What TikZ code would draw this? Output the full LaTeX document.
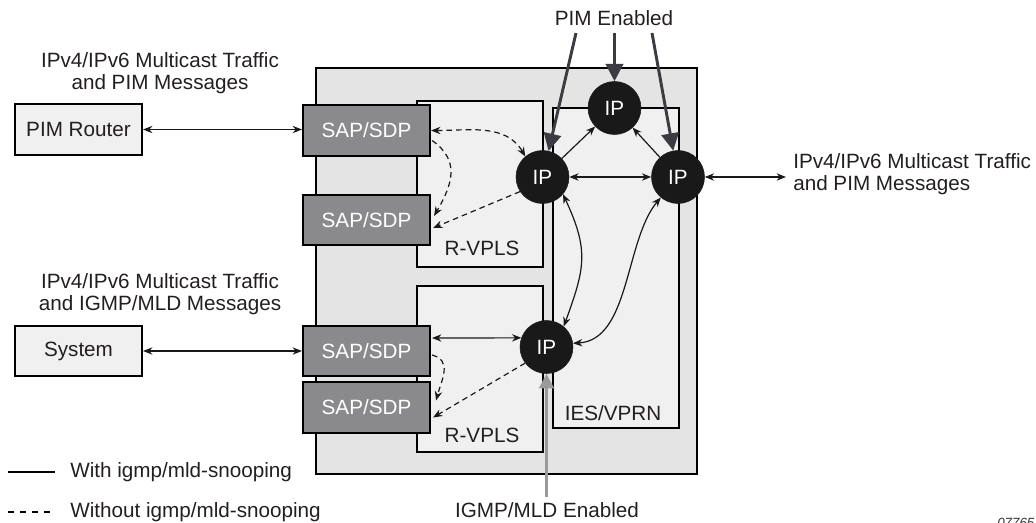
\documentclass[tikz,border=0pt]{standalone}
\usepackage{fontspec}
\setmainfont{Liberation Sans}
\usetikzlibrary{arrows.meta,calc}
\definecolor{outerfill}{HTML}{E4E4E4}
\definecolor{innerfill}{HTML}{F0F0F0}
\definecolor{sapfill}{HTML}{8A8A8C}
\definecolor{txt}{HTML}{231F20}
\definecolor{pimarrow}{HTML}{3D3B42}
\definecolor{igmparrow}{HTML}{9A9A9A}
\begin{document}
\begin{tikzpicture}[x=0.75pt,y=-0.75pt,
  font=\fontsize{15.5}{16.5}\selectfont, text=txt,
  tipS/.tip={Stealth[length=7pt,width=5.5pt]},
  frame/.style={draw=black, line width=1.6pt, inner sep=0pt},
  outerbox/.style={frame, fill=outerfill},
  innerbox/.style={frame, fill=innerfill, minimum width=94.5pt},
  sapbox/.style={frame, fill=sapfill, text=white, minimum width=95.25pt, minimum height=38pt},
  extbox/.style={frame, fill=innerfill, minimum width=95.25pt, minimum height=38pt},
  ipnode/.style={circle, fill=black!90, draw=black!90, text=white, minimum size=39.75pt, inner sep=0pt},
  lbl/.style={inner sep=0pt, align=center},
  conn/.style={line width=0.9pt, draw=black!90, tipS-tipS},
  oneway/.style={line width=0.9pt, draw=black!90, -tipS},
  dashconn/.style={line width=0.9pt, draw=black!90, dash pattern=on 4.2pt off 3pt},
  pimline/.style={draw=pimarrow, line width=2.2pt, -{Triangle[length=13pt,width=13pt]}},
  igmpline/.style={draw=igmparrow, line width=2.2pt, -{Triangle[length=11pt,width=11pt]}}
]
\useasboundingbox (0,0) rectangle (1036,522);

% boxes
\node[outerbox, minimum width=285.75pt, minimum height=304.5pt] (outer) at (506.5,271) {};
\node[innerbox, minimum height=124.5pt] (rv1) at (480,184) {};
\node[innerbox, minimum height=124.5pt] (rv2) at (480,369) {};
\node[innerbox, minimum height=240pt] (ies) at (616,268) {};

\node[lbl] (rv1lbl) at (482,248) {R-VPLS};
\node[lbl] (rv2lbl) at (482,435) {R-VPLS};
\node[lbl] (ieslbl) at (613,413) {IES/VPRN};

\node[sapbox] (sap1) at (366.5,130.5) {SAP/SDP};
\node[sapbox] (sap2) at (366.5,220) {SAP/SDP};
\node[sapbox] (sap3) at (366.5,351) {SAP/SDP};
\node[sapbox] (sap4) at (366.5,407.5) {SAP/SDP};

\node[extbox] (pimr) at (78.5,129.5) {PIM Router};
\node[extbox] (sys) at (78.5,351) {System};

\node[ipnode] (ipT) at (614.5,108) {IP};
\node[ipnode] (ipL) at (542.5,177) {IP};
\node[ipnode] (ipR) at (678,177) {IP};
\node[ipnode] (ipB) at (546.5,347) {IP};

% texts
\node[lbl] (t1) at (160,73) {IPv4/IPv6 Multicast Traffic\\and PIM Messages};
\node[lbl] (t2) at (160,294) {IPv4/IPv6 Multicast Traffic\\and IGMP/MLD Messages};
\node[lbl, anchor=west, align=left] (t3) at (793,174) {IPv4/IPv6 Multicast Traffic\\and PIM Messages};
\node[lbl] (pimen) at (614,18) {PIM Enabled};
\node[lbl] (igmpen) at (547,510) {IGMP/MLD Enabled};

% external connectors
\draw[conn] (pimr.east) -- (sap1.west |- pimr.east);
\draw[conn] (sys.east) -- (sap3.west |- sys.east);
\coordinate (extR) at (786,177);
\draw[conn] (ipR.east) -- (extR);

% IP to IP
\draw[conn] (ipL) -- (ipR);
\draw[oneway] (ipL) -- (ipT);
\draw[oneway] (ipR) -- (ipT);
\draw[conn] (ipL.-40) to[out=-65,in=70,looseness=1.2] (ipB.50);
\draw[conn] (ipR.-130) .. controls (625,240) and (630,340) .. (ipB.8);

% upper R-VPLS
\draw[dashconn, tipS-tipS] (sap1.east) to[out=0,in=120] (ipL.130);
\draw[dashconn, -tipS] ($(sap1.east)+(1,10)$) to[out=-35,in=60,looseness=1.2] ($(sap2.east)+(3,-4)$);
\draw[dashconn, -tipS] (ipL.-147) -- ($(sap2.east)+(2,8)$);

% lower R-VPLS
\draw[conn] ($(sap3.east)+(1,-13)$) -- (ipB.160);
\draw[dashconn, -tipS] ($(sap3.east)+(1,4)$) to[out=-15,in=75,looseness=1.2] ($(sap4.east)+(5,-7)$);
\draw[dashconn, -tipS] (ipB.-143) -- ($(sap4.east)+(2,10)$);

% enable arrows
\coordinate (pa1) at (576,33);
\coordinate (pa2) at (614.5,33);
\coordinate (pa3) at (652,33);
\draw[pimline] (pa1) -- (ipL);
\draw[pimline] (pa2) -- (ipT);
\draw[pimline] (pa3) -- (ipR);
\coordinate (ga) at (546.5,497);
\draw[igmpline] (ga) -- (ipB);

% legend
\coordinate (l1a) at (8,472);
\coordinate (l1b) at (55,472);
\draw[line width=0.9pt] (l1a) -- (l1b);
\node[lbl, anchor=west] (leg1) at (70,472) {With igmp/mld-snooping};
\coordinate (l2a) at (8,512);
\coordinate (l2b) at (55,512);
\draw[line width=0.9pt, dash pattern=on 4.5pt off 4.5pt] (l2a) -- (l2b);
\node[lbl, anchor=west] (leg2) at (70,512) {Without igmp/mld-snooping};

% figure number (cut off at the edge, as in the reference)
\node[lbl, anchor=base west, font=\fontsize{10}{11}\selectfont\itshape, text=black!80] (fig) at (997,527) {07765};
\end{tikzpicture}
\end{document}
